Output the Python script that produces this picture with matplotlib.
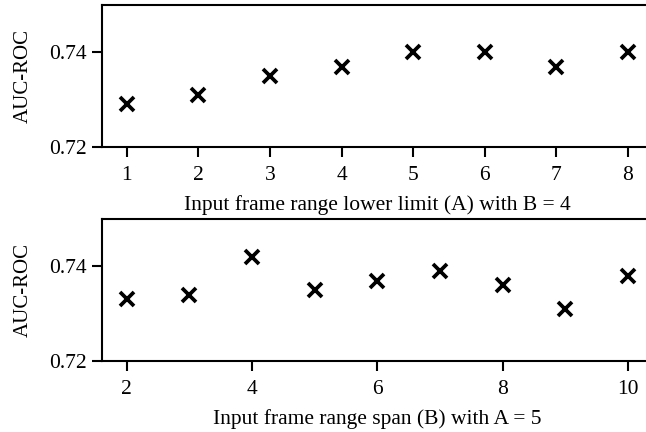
import matplotlib
matplotlib.use("Agg")
import matplotlib.pyplot as plt

plt.rcParams['font.family'] = ['Liberation Serif', 'DejaVu Serif']

# data
a_vals = [1, 2, 3, 4, 5, 6, 7, 8]
auc_a = [0.729, 0.731, 0.735, 0.737, 0.740, 0.740, 0.737, 0.740]
b_vals = [2, 3, 4, 5, 6, 7, 8, 9, 10]
auc_b = [0.733, 0.734, 0.742, 0.735, 0.737, 0.739, 0.736, 0.731, 0.738]
y_ticks = [0.72, 0.74]
xlab_a = "Input frame range lower limit (A) with B = 4"
xlab_b = "Input frame range span (B) with A = 5"

fig = plt.figure(figsize=(6.46, 4.32), dpi=100)
ax1 = fig.add_axes([0.1574, 0.6604, 0.8534, 0.3273])
ax2 = fig.add_axes([0.1574, 0.1644, 0.8534, 0.3287])

def style(ax, x, y, xticks, xlabel):
    ax.plot(x, y, linestyle='none', marker='x', color='black',
            markersize=10.5, markeredgewidth=2.7)
    ax.set_ylim(0.72, 0.75)
    ax.set_xlim(x[0] - 0.05 * (x[-1] - x[0]), x[-1] + 0.05 * (x[-1] - x[0]))
    ax.set_yticks(y_ticks)
    ax.set_yticklabels(["%.2f" % v for v in y_ticks])
    ax.set_xticks(xticks)
    ax.set_ylabel("AUC-ROC", fontsize=15)
    ax.set_xlabel(xlabel, fontsize=15.5, labelpad=7)
    ax.tick_params(axis='x', pad=7)
    ax.tick_params(labelsize=15.5, length=7, width=1.5, direction='out')
    ax.spines['right'].set_visible(False)
    for s in ['top', 'left', 'bottom']:
        ax.spines[s].set_linewidth(1.5)

style(ax1, a_vals, auc_a, a_vals, xlab_a)
style(ax2, b_vals, auc_b, [2, 4, 6, 8, 10], xlab_b)
ax1.yaxis.set_label_coords(-0.125, 0.5)
ax2.yaxis.set_label_coords(-0.125, 0.5)

fig.savefig("out.png", dpi=100)
